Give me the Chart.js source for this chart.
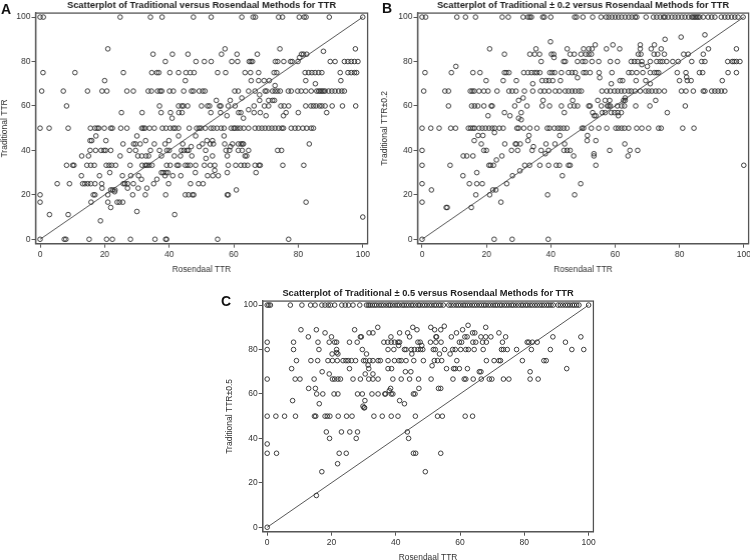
<!DOCTYPE html>
<html>
<head>
<meta charset="utf-8">
<script src="https://cdn.jsdelivr.net/npm/chart.js@4"></script>
<style>
    html, body { margin: 0; padding: 0; background: #fff; }
    body { position: relative; width: 750px; height: 560px; overflow: hidden; }
    .panel { position: absolute; }
    .letter { position: absolute; font: bold 14px "Liberation Sans", Arial, sans-serif; color: #111; line-height: 14px; }
</style>
</head>
<body>
<div class="panel" style="left:-2px;top:-2px;width:373.5px;height:280px"><canvas id="chartA"></canvas></div>
<div class="panel" style="left:378px;top:-2px;width:374.5px;height:280px"><canvas id="chartB"></canvas></div>
<div class="panel" style="left:223px;top:286px;width:375.3px;height:280px"><canvas id="chartC"></canvas></div>
<div class="letter" style="left:1px;top:2px">A</div>
<div class="letter" style="left:382px;top:1px">B</div>
<div class="letter" style="left:221px;top:294px">C</div>
<script>
var tickStep = 20;
var diagonal = [{x: 0, y: 0}, {x: 100, y: 100}];

// each row is [traditional TTR, [rosendaal TTR values]]
var rowsA = [
    [100, [0,1,24.8,34.2,37.8,47.5,53,62.5,66,66.7,73.9,75.1,80.3,81.8,82.4,89.6,100]],
    [85.7, [21,57.3,74.3,97.7]],
    [84.6, [87.8]],
    [83.3, [35,41,45.8,56.2,61,67.3,81,81.6,82.6]],
    [81.8, [80.4]],
    [80, [38.8,48.3,50.9,53,59.4,61.2,64.8,65.3,65.8,72.9,73.6,75.5,77.6,78.1,79.9,89.9,91.4,94.3,95.4,96.4,97.4,98.5]],
    [75, [0.9,10.8,25.8,34.6,36.2,36.8,40.2,42.9,45.2,46.5,47.7,55,57.5,63.5,65.2,67.7,72.5,73.3,82.1,83.2,84.2,85.2,86.3,87.3,93,95.4,96.4,97.4,98.1]],
    [71.4, [20,45,65.4,67.7,69.4,71,82.3,93.2]],
    [70, [85.3]],
    [69.2, [72.8]],
    [66.7, [0.5,7.2,14.7,19.2,20.7,26.9,28.9,33.5,34.5,36.4,37.2,37.7,40.1,41.3,44.5,46.9,47.5,49.3,50.4,51.1,60.3,61.4,64.6,66.6,69.7,70.2,72,72.8,73.6,74.4,76.9,77.8,79.8,80.9,82.3,84,85.7,86.3,86.8,87.3,87.8,88.3,89.4,90.4,91.4,92.5,93.5,94.3]],
    [65, [68]],
    [63.6, [62.5]],
    [62.5, [54.6,58.9,68,70.8,72,72.6]],
    [60, [8.2,37,42.9,43.9,44.4,45.7,50,51.9,52.5,55.6,56,58.3,60.4,66.3,69.5,70.8,74.6,75.6,77,82.3,83.9,84.7,85.5,86.6,87.3,88.3,90.5,93.7,97.8]],
    [58.3, [64.6]],
    [57, [25.2,31.6,37.5,40.4,43,44,52.9,55.9,61.5,62.2,66.3,68.2,76.2,80,88.8]],
    [55.6, [57.9,70,75.4]],
    [54.5, [40.9,63]],
    [50, [0,2.8,8.7,15.6,17,17.7,18.2,19.9,21.9,22.4,25,26.9,31.5,32,32.5,33.9,35.4,37.9,39,40.3,41.3,41.9,42.9,46.2,48.5,49.3,49.9,51.2,52.9,53.7,54.8,56.1,57,59.2,60,60.4,61.2,62,63.1,64.6,66.6,67.7,68.7,69.7,70.8,71.8,72.8,73.9,74.9,75.4,77.8,79,80,81.4,82.6,84,84.7]],
    [46.5, [17.3,30,48.2,57,42.9]],
    [44.4, [15.5,16,20.4,32.7,39.9,51.7,53.4]],
    [42.9, [25.7,29,29.6,31,35.4,38.7,44.2,50.3,52.7,53.7,57.2,59.6,61.4,62.2,62.7,63,83.4]],
    [41.7, [46.8,49.3,59]],
    [40, [15.5,17.2,18.9,19.8,20.3,21.9,27.7,29.6,34.2,37,39.3,40,43.8,44.6,45.5,46,51.3,57.6,58.7,61.4,62.6,64.6,73.6,74.8]],
    [37.5, [12.9,15,24.8,30.3,31.5,32.8,33.6,37.6,41.6,43.5,47,53.4,58,63.5,64]],
    [36.4, [51.4]],
    [33.3, [8.2,10.1,10.5,14.5,15.7,16.8,20.5,21.4,22.2,23.4,27.9,31.6,32.6,33.1,33.8,34.7,39.2,40.3,42.4,42.9,45,45.7,46.5,48.2,50.9,52.7,54.1,58.3,60.6,62.2,63.3,64.3,66.6,67.8,68.2,75.2,81.7]],
    [31, [54.1]],
    [30, [21.6,37.6,38.2,39,39.6,48.1,58,66.9]],
    [28.6, [12.8,18.4,25.5,28.1,30.5,38.7,41.1,43.6,51.9,53.5,55.2]],
    [27, [31.4,36.2]],
    [25, [5.3,9.1,13.2,13.9,14.8,15.7,17,19.1,25.8,26.3,27.1,28.9,35.2,39.8,46.6,49.1,50.5]],
    [23, [19.2,27.1,30.4,33.1]],
    [22.2, [21.9,22.5,23.2,60.8]],
    [21.4, [23.1]],
    [20, [0,16.5,17,21,28.7,32.6,38.9,45,46,47.2,47.6,58,58.3]],
    [16.7, [0,15.8,21,23.9,24.6,25.6,82.4]],
    [14.3, [21.9]],
    [12.5, [30]],
    [11.1, [2.9,8.7,41.7]],
    [10, [100]],
    [8.3, [18.7]],
    [0, [0,7.5,8,15.2,20.6,22.4,28,35.6,38.9,39.2,55,77]]
];

var rowsB = [
    [100, [0,1.1,10.8,13.5,16.6,24.9,26.8,31.4,32.9,33.5,34,37.5,38,40,47.4,48,50,53,55.6,57.2,58,59,60,61,62,63.1,64.2,65.2,66.2,66.7,69.6,71.9,72.9,74,75,75.5,76.5,77.6,78.6,79.6,80.7,81.7,82.8,83.8,84.3,84.8,85.3,85.8,86.3,87.4,88.9,90,91,93,94.1,95.1,96.2,97.2,98.2,99.8]],
    [92, [87.9]],
    [91, [80.5]],
    [90, [75.5]],
    [88.9, [39.9]],
    [87.5, [53.8,59.3,67.8,72.2]],
    [85.7, [21,35.4,45.1,50.2,51.8,52.8,57.3,61.4,67.8,71.2,74.3,89,97.7]],
    [83.3, [25.6,33.5,35,36.5,40.2,40.9,46,47.3,49.4,50.9,51.8,52.6,67.2,68,72.1,73.2,75.3,81.3,82.7,87.4]],
    [81.8, [41]],
    [80, [37,44,44.5,48.3,49.9,50.7,52.8,54.9,58.5,60.7,65,66,67,68.3,70.9,72.9,74,74.7,76,77.9,79.6,83.8,86.9,87.9,95,96.4,97,97.7,98.8]],
    [78.6, [68.3]],
    [77.8, [10.5,70]],
    [75, [0.9,9.1,15.8,18,25.6,26.2,27,31.6,32.9,34,35,35.7,36.6,39.7,40.4,41.2,43.3,45.5,46.6,47.6,50.2,50.9,52.2,55,59,64.2,65.2,66.7,68.6,70.9,72.2,72.9,73.5,79.3,82,86.2,87.2,95.1,97.7]],
    [73, [82.2]],
    [72.7, [48.3,55.2]],
    [71.4, [19.9,25.2,29.3,37.3,38.5,39.4,40.6,43,61.5,62.3,66.5,69.5,80,82.4,83.6,93.3]],
    [70, [34.4,58.8,70.9]],
    [66.7, [0.5,7.1,8.2,15,15.6,16.2,17.7,19.2,20.5,23.3,27,28,29.2,31.8,34.4,36.8,38,39.4,41.4,42.7,44.5,45.5,46.6,47.6,48.7,49.5,55.9,57.4,58.5,59.8,60.8,61.9,62.9,64.2,65,66.2,67.8,69.5,70.4,71.4,72.6,73.6,75.3,80.6,82,84.3,87.4,87.9,90,91,92,93,94.1]],
    [63.6, [31.4,63.1]],
    [62.5, [30,37.6,46.8,54.6,56.9,58.3,62.6,63.1,72.6]],
    [60, [8.2,15.4,16.3,17.3,19.2,21.5,21.8,28.8,32.6,37.3,39.6,43.3,46,47.3,48.3,51.8,52.2,55.7,57.6,58,58.5,60.7,62,62.9,66.4,70.8,81.8]],
    [57, [25.6,30.8,44.2,53,56,56.9,58.8,59.8,60.8,61.9,76.2]],
    [55.6, [20.5,27.3,53.5,54,61]],
    [54.5, [30]],
    [53.8, [30.8]],
    [50, [0,2.7,5.3,8.9,10.4,14.4,15.1,15.8,16.3,17.7,18.7,19.7,20.8,21.8,22.6,24,25.2,29.5,30,31.6,33.5,35.7,38.9,39.6,41.1,42.2,43,44,45,49.7,50.2,52.6,54.9,57.4,60.2,61,62,62.9,64.2,66.7,68.3,70.4,73.5,74.3,81,84.5]],
    [48, [22.5]],
    [46.7, [17.4,18.9,33.2,42.8,51.4]],
    [44.4, [16.2,32.9,51.3,54]],
    [42.9, [18.4,25.7,29,29.3,30.5,38.5,41.3,44.3,63]],
    [41.7, [34.6]],
    [40, [0,19.2,20,27.8,29.7,34.2,37,39.3,44.1,45.1,46,58.3,64.6,67]],
    [38.5, [38.3,53.4]],
    [37.5, [12.8,13.9,15.8,24.8,47.1,53.4,64]],
    [35.7, [23.1]],
    [33.3, [0,8.7,20.8,21.3,22.2,31.9,33.4,36.6,39.3,41.7,42.7,45.5,46,54,100]],
    [30.8, [30.4]],
    [30, [17]],
    [28.6, [12.7,28.1,43.6]],
    [25, [0,14.7,17,18.7,26.3,49.3]],
    [22.2, [2.9,22,22.9]],
    [20, [16.7,21,39,47.4]],
    [16.7, [0,24.5]],
    [14.3, [7.5,7.8,15.3]],
    [0, [0,22.4,28,39.2]]
];

var rowsC = [
    [100, [0,0.5,1,7.2,10.8,13.5,14.9,17,18,19,19.7,21,23.2,24.3,25.3,26.7,28.8,30.9,31.5,32,32.7,33.4,34,34.8,35.5,36.2,37,37.8,38.3,39,39.8,40.5,41.1,42,42.6,43.3,44,44.8,45.4,46.2,47,47.5,48.3,49,49.7,50.5,51.2,52,52.6,53.4,54,54.8,56.5,57.2,58,58.8,59.5,60.2,61,61.6,62.3,63,63.8,64.5,65.2,66,66.7,67.4,68,68.8,69.5,70.3,71,71.6,72.4,73,73.8,74.5,75.2,76,76.6,77.4,78.2,79,79.6,80.4,81,81.8,82.5,83.3,84,84.8,85.5,86.2,87,87.6,88.3,89,90.5,91.2,92,92.8,93.5,94.2,95,95.6,96.3,97,100]],
    [90.9, [62.5]],
    [90.5, [55.1]],
    [90, [34.4,45.3,50.9,68]],
    [88.9, [10.5,15.3,27.2,46.6,52.1,54,60.8]],
    [87.5, [18,31.7,32.9,41.2,43.7,58.9,63.9,64.6,72.1]],
    [85.7, [12.8,20,29,29.3,38.5,44.3,52.5,52.7,57.3,61.5,62.2,66.5,68,69.6,74.2,88.9,97.6]],
    [83.3, [0,8.2,15.8,19.3,21,21.6,25.6,28,36.3,37.5,38.6,39.6,40.7,41.2,46.9,47.6,50.8,52.5,54.1,59.8,60.5,64,64.9,67,68.2,73.2,80.9,81.4,82.5,84,92.8]],
    [81.8, [40.9,48.1]],
    [80, [0,8.2,16.1,21.6,29.6,37.6,39.4,42.7,43.2,44.8,45.8,46.9,47.7,48.4,51.7,52.3,55.2,57.7,58.5,60.2,61.8,62.6,64.4,67.2,72.9,73.5,74.7,77.6,82.2,88.1,94.8,98.5]],
    [78.6, [21.6]],
    [78, [20.2,22,30.9,45,53.6,56.9]],
    [75, [9.1,13.6,15.7,18.9,20.3,21.8,23.6,24.5,25.2,26.2,27.5,30,30.6,31.9,32.9,34.5,35.2,37.6,39.6,41,41.7,43.2,45.6,48.6,52,53,54.3,59,68.2,70.6,72.1,72.6,79.4,86.1,86.8]],
    [73, [31.4]],
    [72.7, [51.3]],
    [71.4, [7.6,25.6,31.6,37.6,38.7,55.8,58,58.5,59.8,62.3,93.2]],
    [70, [17.1,43,44.7,66,66.5,81.8]],
    [69, [19.3,30.5,32.9]],
    [66.7, [0,8.7,10.2,14.6,20.3,21,22,22.8,26.7,29,31.6,32.9,34.5,39.1,41.7,44.3,47.1,51,57.8,61.3,61.8,64.1,66.6,69.1,69.9,73.5,75.2,81.8,84.3]],
    [62.5, [12.9,15,38.4,47.2,53.3,54]],
    [61.5, [38]],
    [60, [15.4,17.3,20.8,22,28.1,29.6,32.6,34.5,36.6,36.8,38.6,39.1,45.5,46]],
    [57, [7.9,30.4,41.2]],
    [55.6, [16.2,42.7]],
    [54.5, [29.8]],
    [53.8, [30.1,30.3]],
    [50, [0,2.7,5.4,8.8,14.7,15.1,18,18.7,19.5,22.1,24.7,26.4,33.2,35.8,38.6,40.7,46.1,53,54.5,61.6,63.9]],
    [42.9, [18.4,23.1,25.7,28.1,43.6]],
    [40, [19.4,27.7,44]],
    [37.5, [0]],
    [33.3, [0,2.9,22.4,24.6,45.5,46.2,54]],
    [28.6, [21.9]],
    [25, [17,49.2]],
    [14.3, [15.3]],
    [0, [0]]
];

function rowsToPoints(rows) {
    var pts = [];
    rows.forEach(function(row) {
        row[1].forEach(function(x) {
            pts.push({x: x, y: row[0]});
        });
    });
    return pts;
}

// top and right sides of the box, the axes only give left and bottom
var boxPlugin = {
    id: 'box',
    afterDraw: function(chart) {
        var a = chart.chartArea, c = chart.ctx;
        c.save();
        c.strokeStyle = '#555';
        c.lineWidth = 1.3;
        c.strokeRect(a.left, a.top, a.right - a.left, a.bottom - a.top);
        c.restore();
    }
};

function makeScatter(id, rows, title, yTitle, axisW) {
    var fontName = '"Liberation Sans", Arial, sans-serif';
    var axisLine = {color: '#555', width: 1.3};
    var gridOpts = {drawOnChartArea: false, drawTicks: true, tickLength: 4, tickColor: '#555', tickWidth: 1};
    return new Chart(document.getElementById(id).getContext('2d'), {
        type: 'scatter',
        data: {
            datasets: [{
                data: rowsToPoints(rows),
                backgroundColor: 'transparent',
                borderColor: '#2b2b2b',
                borderWidth: 0.9,
                pointRadius: 2.3
            }, {
                data: diagonal,
                showLine: true,
                borderColor: '#444',
                borderWidth: 0.9,
                pointRadius: 0
            }]
        },
        options: {
            responsive: true,
            maintainAspectRatio: false,
            animation: false,
            plugins: {
                legend: {display: false},
                tooltip: {enabled: false},
                title: {
                    display: true,
                    fullSize: false,
                    text: title,
                    color: '#222',
                    font: {family: fontName, size: 9.3, weight: 'bold', lineHeight: 1.3},
                    padding: {top: 1, bottom: 2}
                }
            },
            scales: {
                x: {
                    type: 'linear',
                    min: -1.4,
                    max: 101.5,
                    border: axisLine,
                    grid: gridOpts,
                    ticks: {stepSize: tickStep, includeBounds: false, maxRotation: 0, padding: 2, color: '#333', font: {family: fontName, size: 8.5}},
                    title: {display: true, text: 'Rosendaal TTR', color: '#333', font: {family: fontName, size: 8.4}, padding: {top: 0, bottom: 3}},
                    afterFit: function(s) { s.height = 34.3; }
                },
                y: {
                    type: 'linear',
                    min: -2,
                    max: 101.8,
                    border: axisLine,
                    grid: gridOpts,
                    ticks: {stepSize: tickStep, includeBounds: false, padding: 1, color: '#333', font: {family: fontName, size: 8.5}},
                    title: {display: true, text: yTitle, color: '#333', font: {family: fontName, size: 8.5}, padding: {top: 2, bottom: 0}},
                    afterFit: function(s) { s.width = axisW; }
                }
            }
        },
        plugins: [boxPlugin]
    });
}

makeScatter('chartA', rowsA, 'Scatterplot of Traditional versus Rosendaal Methods for TTR', 'Traditional TTR', 37.5);
makeScatter('chartB', rowsB, 'Scatterplot of Traditional \u00b1 0.2 versus Rosendaal Methods for TTR', 'Traditional TTR\u00b10.2', 39.5);
makeScatter('chartC', rowsC, 'Scatterplot of Traditional \u00b1 0.5 versus Rosendaal Methods for TTR', 'Traditional TTR\u00b10.5', 39.7);
</script>
</body>
</html>
